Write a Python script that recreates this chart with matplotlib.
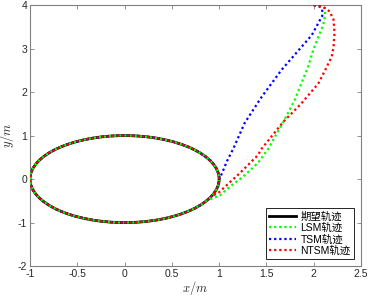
import numpy as np
import matplotlib
matplotlib.use('Agg')
import matplotlib.pyplot as plt
from matplotlib.patches import Ellipse
from matplotlib.lines import Line2D

plt.rcParams['font.family'] = ['Liberation Sans', 'Noto Sans CJK SC', 'DejaVu Sans']
plt.rcParams['mathtext.fontset'] = 'cm'

# desired trajectory: circle centre / radii
ref_center = (0.0, 0.0)
ref_rx = 1.0
ref_ry = 1.0

# transient part of each tracked trajectory, ends on the circle
lsm_x = [2.00, 2.08, 2.12, 2.12, 2.10, 2.05, 2.00, 1.94, 1.87, 1.80, 1.68, 1.52, 1.41, 1.25, 1.11, 1.01, 0.94, 0.87]
lsm_y = [4.00, 3.97, 3.92, 3.77, 3.54, 3.27, 3.00, 2.58, 2.20, 1.82, 1.32, 0.70, 0.37, 0.05, -0.18, -0.37, -0.44, -0.49]

tsm_x = [2.00, 2.06, 2.09, 2.09, 2.05, 1.98, 1.86, 1.66, 1.45, 1.27, 1.15, 1.08, 1.03, 1.00, 0.99]
tsm_y = [4.00, 3.97, 3.90, 3.75, 3.59, 3.31, 3.01, 2.51, 1.89, 1.29, 0.70, 0.40, 0.13, 0.00, -0.12]

ntsm_x = [2.00, 2.10, 2.17, 2.21, 2.22, 2.21, 2.19, 2.12, 2.05, 1.87, 1.68, 1.45, 1.41, 1.22, 1.06, 0.99, 0.92]
ntsm_y = [4.00, 3.96, 3.85, 3.66, 3.35, 3.04, 2.81, 2.50, 2.20, 1.74, 1.32, 0.70, 0.55, 0.14, -0.18, -0.32, -0.39]

labels = ['期望轨迹', 'LSM轨迹', 'TSM轨迹', 'NTSM轨迹']
colors = ['black', '#00ff00', '#0000ff', '#ff0000']

fig = plt.figure(figsize=(3.69, 2.97), dpi=100)
ax = fig.add_axes([0.0813, 0.104, 0.897, 0.879])

lw = 1.6
dots = (0, (1, 1.3))
dots_shift = (1.15, (1, 1.3))

ax.add_patch(Ellipse(ref_center, 2 * ref_rx, 2 * ref_ry, fill=False, color=colors[0], lw=2, zorder=2))
ax.add_patch(Ellipse(ref_center, 2 * ref_rx, 2 * ref_ry, fill=False, color=colors[1], lw=lw, ls=dots_shift, zorder=3))
ax.add_patch(Ellipse(ref_center, 2 * ref_rx, 2 * ref_ry, fill=False, color=colors[2], lw=lw, ls=dots, zorder=3))
ax.add_patch(Ellipse(ref_center, 2 * ref_rx, 2 * ref_ry, fill=False, color=colors[3], lw=lw, ls=dots, zorder=4))

ax.plot(lsm_x, lsm_y, color=colors[1], lw=lw, ls=dots, zorder=3)
ax.plot(tsm_x, tsm_y, color=colors[2], lw=lw, ls=dots, zorder=3)
ax.plot(ntsm_x, ntsm_y, color=colors[3], lw=lw, ls=dots, zorder=4)

ax.set_xlim(-1, 2.5)
ax.set_ylim(-2, 4)
ax.set_xticks(np.arange(-1, 2.51, 0.5))
ax.set_xticklabels(['-1', '-0.5', '0', '0.5', '1', '1.5', '2', '2.5'])
ax.set_yticks(np.arange(-2, 4.1, 1))
ax.set_yticklabels(['-2', '-1', '0', '1', '2', '3', '4'])
ax.tick_params(direction='in', top=True, right=True, length=3, width=0.6,
               labelsize=7.5, colors='0.5', labelcolor='0.15', pad=2)
for s in ax.spines.values():
    s.set_color('0.5')
    s.set_linewidth(0.8)

ax.set_xlabel('$x/m$', fontsize=9, labelpad=0, color='0.15')
ax.set_ylabel('$y/m$', fontsize=9, labelpad=1, color='0.15')

handles = [Line2D([], [], color=colors[0], lw=2)]
for c in colors[1:]:
    handles.append(Line2D([], [], color=c, lw=lw, ls=dots))
leg = ax.legend(handles, labels, loc='lower right', fontsize=7.5, fancybox=False,
                edgecolor='black', framealpha=1, handlelength=2.6, handletextpad=0.4,
                borderaxespad=0.7, labelspacing=0.1, borderpad=0.3)
leg.get_frame().set_linewidth(0.6)

fig.savefig('out.png', dpi=100)
